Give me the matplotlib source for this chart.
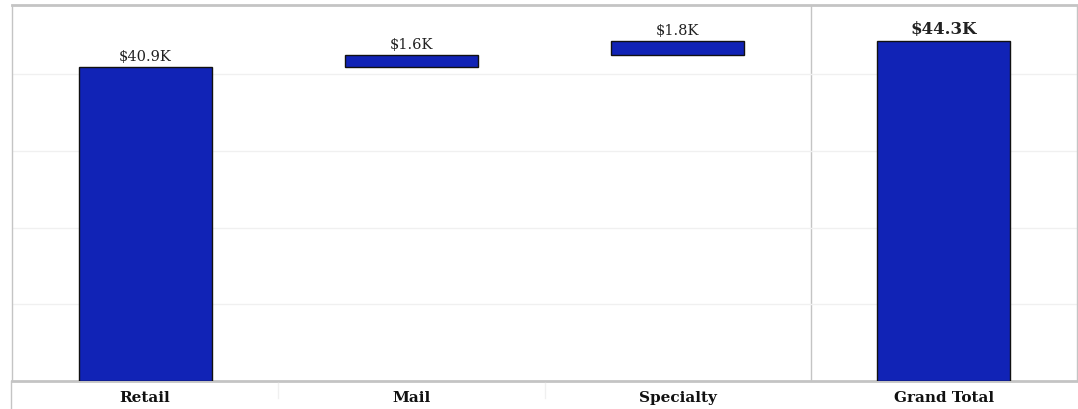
import matplotlib.pyplot as plt
from matplotlib.lines import Line2D
import numpy as np

# Data (thousands of $)
categories = ["Retail", "Mail", "Specialty", "Grand Total"]
steps = [40.9, 1.6, 1.8]
grand_total = 44.3
labels = ["$40.9K", "$1.6K", "$1.8K", "$44.3K"]

heights = steps + [grand_total]
bottoms = list(np.concatenate([[0], np.cumsum(steps)[:-1]])) + [0]

bar_color = '#1123b6'
border = '#c4c4c4'

fig = plt.figure(figsize=(10.78, 4.09), dpi=100)
ax = fig.add_axes([12 / 1078, 1 - 381 / 409, 1065 / 1078, 376 / 409])

x = np.arange(len(categories))
bars = ax.bar(x, heights, bottom=bottoms, width=0.5, color=bar_color,
              edgecolor='#111111', linewidth=1.0, zorder=3)

ax.set_xlim(-0.5, 3.5)
ax.set_ylim(0, 49)
ax.set_yticks([10, 20, 30, 40])
ax.set_yticklabels([])
ax.tick_params(axis='both', length=0)
ax.grid(axis='y', color='#f0f0f0', linewidth=1, zorder=0)
ax.set_xticks(x)
ax.set_xticklabels([])

# separator before Grand Total
ax.axvline(2.5, color=border, linewidth=1, zorder=1)

for s in ['top', 'bottom']:
    ax.spines[s].set_color(border)
    ax.spines[s].set_linewidth(2)
for s in ['left', 'right']:
    ax.spines[s].set_color(border)
    ax.spines[s].set_linewidth(1)

# value labels
for i, bar in enumerate(bars):
    top = bar.get_y() + bar.get_height()
    is_total = i == len(bars) - 1
    ax.annotate(labels[i], (bar.get_x() + bar.get_width() / 2, top),
                xytext=(0, 2), textcoords='offset points', ha='center', va='bottom',
                fontsize=12 if is_total else 10.5,
                fontweight='bold' if is_total else 'normal',
                family='DejaVu Serif', color='#222222')

# category labels under the axis
for i, cat in enumerate(categories):
    ax.annotate(cat, (x[i], 0), xytext=(0, -12), textcoords='offset points',
                ha='center', va='center', fontsize=11, fontweight='bold',
                family='DejaVu Serif', color='#111111', annotation_clip=False)

# left border continuing through the label area, faint dividers
fig.add_artist(Line2D([11 / 1078, 11 / 1078], [0, 1 - 381 / 409], color=border, linewidth=1))
for b in [0.5, 1.5]:
    xf = (12 + (b + 0.5) * 266.25) / 1078
    fig.add_artist(Line2D([xf, xf], [1 - 398 / 409, 1 - 383 / 409], color='#f0f0f0', linewidth=1))

fig.savefig("out.png", dpi=100)
